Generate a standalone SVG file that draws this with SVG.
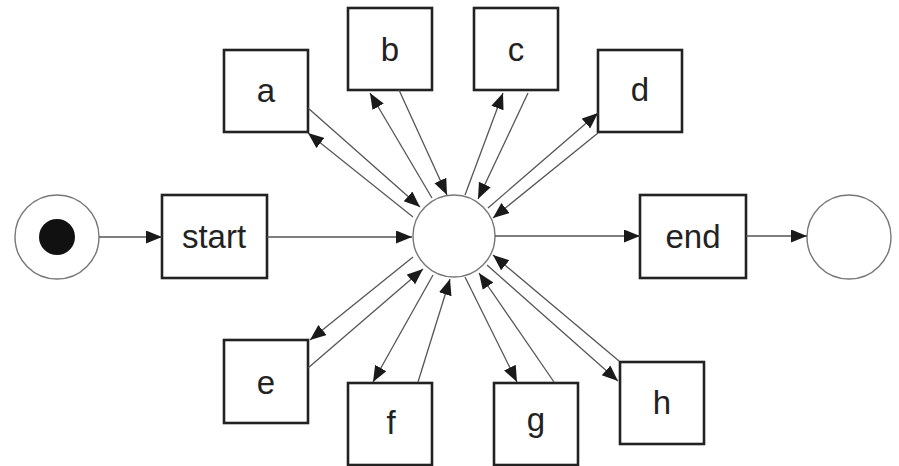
<svg xmlns="http://www.w3.org/2000/svg" width="899" height="466" viewBox="0 0 899 466">
<defs>
<marker id="ah" markerUnits="userSpaceOnUse" markerWidth="17" markerHeight="14" refX="16" refY="6.5" orient="auto">
<path d="M0,0 L16,6.5 L0,13 z" fill="#1a1a1a"/>
</marker>
<style>
.box{fill:#fff;stroke:#222;stroke-width:2.6}
.circ{fill:#fff;stroke:#777;stroke-width:1.4}
.lbl{font-family:"Liberation Sans",Arial,sans-serif;font-size:33px;fill:#222;text-anchor:middle}
.c line{stroke:#555;stroke-width:1.3;marker-end:url(#ah)}
</style>
</defs>
<rect width="899" height="466" fill="#fff"/>
<g id="initial"><circle class="circ" cx="57" cy="237" r="42"/><circle cx="57" cy="237" r="18" fill="#111"/></g>
<g id="start"><rect class="box" x="162" y="195" width="105" height="83"/><text class="lbl" x="214" y="248">start</text></g>
<g id="center"><circle class="circ" cx="454" cy="236" r="41"/></g>
<g id="end"><rect class="box" x="640" y="195" width="106" height="83"/><text class="lbl" x="693" y="248">end</text></g>
<g id="final"><circle class="circ" cx="849" cy="237" r="42"/></g>
<g id="a"><rect class="box" x="224" y="50" width="84" height="82"/><text class="lbl" x="266" y="102">a</text></g>
<g id="b"><rect class="box" x="348" y="8" width="84" height="82"/><text class="lbl" x="390" y="61">b</text></g>
<g id="c"><rect class="box" x="474" y="8" width="84" height="82"/><text class="lbl" x="516" y="61">c</text></g>
<g id="d"><rect class="box" x="598" y="50" width="84" height="82"/><text class="lbl" x="640" y="101">d</text></g>
<g id="e"><rect class="box" x="224" y="340" width="84" height="83"/><text class="lbl" x="266" y="394">e</text></g>
<g id="f"><rect class="box" x="348" y="383" width="84" height="82"/><text class="lbl" x="391" y="434">f</text></g>
<g id="g"><rect class="box" x="494" y="383" width="84" height="82"/><text class="lbl" x="536" y="431">g</text></g>
<g id="h"><rect class="box" x="620" y="362" width="84" height="82"/><text class="lbl" x="662" y="414">h</text></g>
<g id="connectors" class="c">
<line x1="99" y1="237" x2="162" y2="237"/>
<line x1="267" y1="237" x2="412" y2="237"/>
<line x1="495" y1="236" x2="640" y2="236"/>
<line x1="746" y1="236" x2="807" y2="236"/>
<line x1="308" y1="108" x2="420" y2="207"/>
<line x1="413" y1="217" x2="308" y2="133"/>
<line x1="399" y1="90" x2="447" y2="195"/>
<line x1="432" y1="198" x2="370" y2="93"/>
<line x1="465" y1="195" x2="503" y2="93"/>
<line x1="528" y1="93" x2="478" y2="199"/>
<line x1="488" y1="208" x2="598" y2="113"/>
<line x1="598" y1="133" x2="493" y2="218"/>
<line x1="413" y1="257" x2="310" y2="340"/>
<line x1="308" y1="368" x2="423" y2="269"/>
<line x1="433" y1="275" x2="373" y2="382"/>
<line x1="418" y1="382" x2="450" y2="279"/>
<line x1="465" y1="277" x2="517" y2="382"/>
<line x1="554" y1="382" x2="479" y2="273"/>
<line x1="487" y1="265" x2="618" y2="381"/>
<line x1="619" y1="361" x2="493" y2="255"/>
</g>
</svg>
